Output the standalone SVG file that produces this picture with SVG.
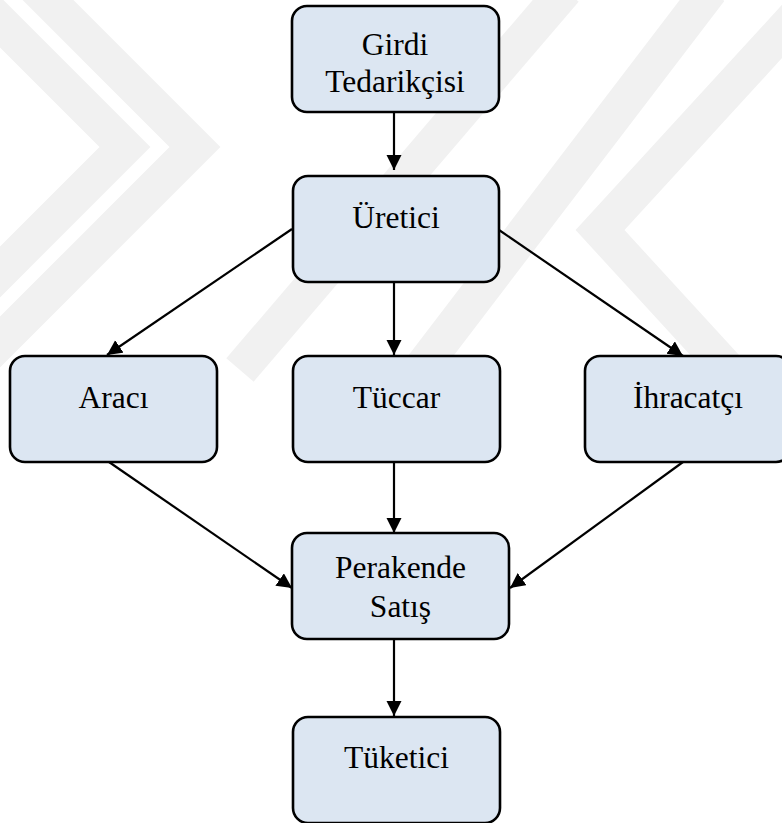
<svg xmlns="http://www.w3.org/2000/svg" width="782" height="823" viewBox="0 0 782 823">
  <defs>
    <style>
      .wm { fill: none; stroke: #f1f1f1; stroke-width: 36; stroke-linejoin: miter; stroke-miterlimit: 10; }
      .box { fill: #dce6f2; stroke: #000; stroke-width: 2.6; }
      .lbl { font-family: "Liberation Serif", "Times New Roman", serif; font-size: 31.5px; fill: #000; text-anchor: middle; }
      .edge { stroke: #000; stroke-width: 2.2; fill: none; marker-end: url(#arrow); }
    </style>
    <marker id="arrow" markerUnits="userSpaceOnUse" markerWidth="16" markerHeight="16" refX="15" refY="7.5" orient="auto">
      <path d="M0,0 L15,7.5 L0,15 Z" fill="#000"/>
    </marker>
  </defs>
  <rect width="782" height="823" fill="#fff"/>
  <g id="watermark">
    <polyline class="wm" points="-50,-98 195,147 -50,392"/>
    <polyline class="wm" points="-120,-98 125,147 -120,392"/>
    <line class="wm" x1="565" y1="-10" x2="240" y2="370"/>
    <line class="wm" x1="710" y1="-10" x2="420" y2="370"/>
    <polyline class="wm" points="820,-10 600,230 820,470"/>
  </g>
  <g id="connectors">
    <line class="edge" x1="394" y1="112" x2="394" y2="170"/>
    <line class="edge" x1="394" y1="282" x2="394" y2="355"/>
    <line class="edge" x1="394" y1="462" x2="394" y2="533"/>
    <line class="edge" x1="394" y1="639" x2="394" y2="716"/>
    <line class="edge" x1="292" y1="229" x2="107" y2="355"/>
    <line class="edge" x1="499" y1="230" x2="683" y2="356"/>
    <line class="edge" x1="109" y1="462" x2="292" y2="588"/>
    <line class="edge" x1="683" y1="462" x2="510" y2="588"/>
  </g>
  <g id="n-girdi">
    <rect class="box" x="292" y="6" width="207" height="106" rx="15"/>
    <text class="lbl" x="395" y="55">Girdi</text>
    <text class="lbl" x="395" y="92">Tedarikçisi</text>
  </g>
  <g id="n-uretici">
    <rect class="box" x="293" y="176" width="206" height="106" rx="15"/>
    <text class="lbl" x="396" y="228">Üretici</text>
  </g>
  <g id="n-araci">
    <rect class="box" x="10" y="356" width="207" height="106" rx="15"/>
    <text class="lbl" x="113.5" y="408">Aracı</text>
  </g>
  <g id="n-tuccar">
    <rect class="box" x="293" y="356" width="207" height="106" rx="15"/>
    <text class="lbl" x="396.5" y="408">Tüccar</text>
  </g>
  <g id="n-ihracatci">
    <rect class="box" x="585" y="356" width="206" height="106" rx="15"/>
    <text class="lbl" x="688" y="408">İhracatçı</text>
  </g>
  <g id="n-perakende">
    <rect class="box" x="292" y="533" width="217" height="106" rx="15"/>
    <text class="lbl" x="400.5" y="578">Perakende</text>
    <text class="lbl" x="400.5" y="617">Satış</text>
  </g>
  <g id="n-tuketici">
    <rect class="box" x="293" y="717" width="207" height="106" rx="15"/>
    <text class="lbl" x="396.5" y="768">Tüketici</text>
  </g>
</svg>
